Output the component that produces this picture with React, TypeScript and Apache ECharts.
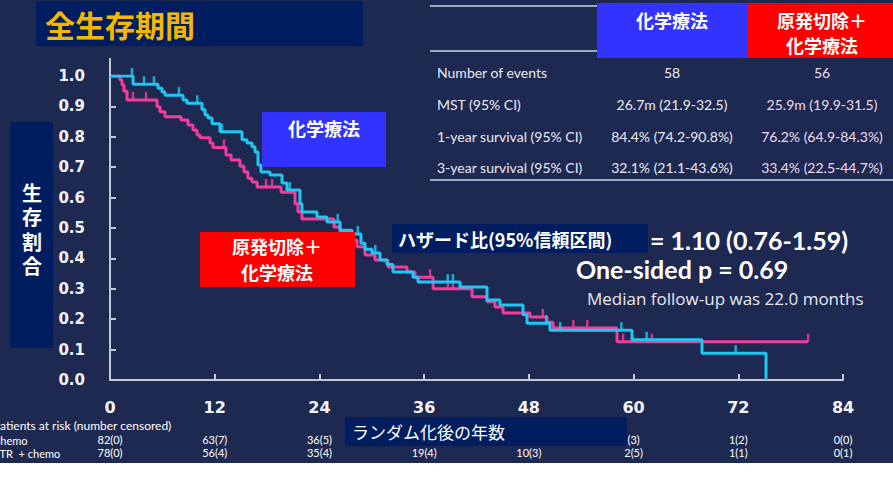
import React, { useEffect, useRef } from 'react';
import * as echarts from 'echarts';

const xTicks = [0, 12, 24, 36, 48, 60, 72, 84];
const chemoAtRisk = ['82(0)', '63(7)', '36(5)', '', '', '(3)', '1(2)', '0(0)'];
const ptrAtRisk = ['78(0)', '56(4)', '35(4)', '19(4)', '10(3)', '2(5)', '1(1)', '0(1)'];

// Kaplan-Meier steps: [month, survival after that month]
const chemoSteps: [number, number][] = [
  [0, 1.0], [2.64, 0.973], [5.5, 0.96], [5.96, 0.947], [6.3, 0.937], [8.37, 0.921], [8.82, 0.91],
  [10.54, 0.89], [10.89, 0.872], [11.23, 0.862], [11.69, 0.843], [12.61, 0.817], [15.13, 0.79],
  [15.7, 0.78], [16.27, 0.767], [16.62, 0.75], [16.96, 0.707], [17.3, 0.684], [18.34, 0.674],
  [19.71, 0.648], [20.28, 0.625], [21.77, 0.58], [22.0, 0.553], [23.72, 0.536], [24.87, 0.52],
  [26.36, 0.493], [27.73, 0.48], [28.76, 0.45], [29.22, 0.43], [30.03, 0.418], [30.94, 0.395],
  [31.74, 0.38], [32.43, 0.355], [34.72, 0.338], [35.3, 0.322], [40.11, 0.306], [43.2, 0.263],
  [44.69, 0.247], [47.33, 0.215], [47.79, 0.187], [50.42, 0.164], [59.82, 0.132], [67.84, 0.088],
  [75.18, 0.0],
];
const ptrSteps: [number, number][] = [
  [0, 1.0], [1.15, 0.987], [1.38, 0.97], [1.6, 0.95], [1.95, 0.921], [5.39, 0.899], [5.73, 0.882],
  [6.3, 0.866], [8.14, 0.855], [8.94, 0.839], [9.51, 0.822], [9.97, 0.806], [10.31, 0.797],
  [11.46, 0.78], [11.8, 0.765], [13.29, 0.74], [13.87, 0.724], [14.9, 0.703], [15.36, 0.684],
  [15.81, 0.664], [16.27, 0.651], [16.85, 0.635], [19.6, 0.618], [21.2, 0.58], [21.54, 0.553],
  [22.0, 0.53], [25.67, 0.503], [26.36, 0.487], [27.73, 0.46], [28.31, 0.438], [29.22, 0.411],
  [30.37, 0.395], [31.86, 0.372], [34.04, 0.355], [34.95, 0.338], [37.02, 0.3], [41.49, 0.274],
  [43.2, 0.257], [44.12, 0.24], [45.04, 0.22], [48.13, 0.207], [50.08, 0.19], [50.77, 0.171],
  [58.1, 0.126], [80.0, 0.126],
];
const chemoCensored: [number, number][] = [
  [2.52, 1.0], [3.9, 0.973], [5.04, 0.973], [7.9, 0.937], [10.0, 0.91], [12.84, 0.817],
  [20.6, 0.625], [26.1, 0.52], [28.4, 0.48], [30.4, 0.418], [38.7, 0.322], [39.3, 0.322],
  [50.0, 0.187], [51.6, 0.164], [58.6, 0.164], [61.5, 0.132], [71.7, 0.088],
];
const ptrCensored: [number, number][] = [
  [2.64, 0.921], [4.13, 0.921], [13.06, 0.765], [17.88, 0.635], [18.57, 0.635], [36.67, 0.338],
  [38.73, 0.3], [39.3, 0.3], [49.6, 0.207], [53.1, 0.171], [54.7, 0.171], [58.8, 0.126],
  [62.1, 0.126], [80.0, 0.126],
];

const tableRowLabels = ['Number of events', 'MST (95% CI)', '1-year survival (95% CI)', '3-year survival (95% CI)'];
const chemoStats = ['58', '26.7m (21.9-32.5)', '84.4% (74.2-90.8%)', '32.1% (21.1-43.6%)'];
const ptrStats = ['56', '25.9m (19.9-31.5)', '76.2% (64.9-84.3%)', '33.4% (22.5-44.7%)'];
const yTitleChars = ['生', '存', '割', '合'];

const BG = '#1e2951';
const BOX = '#001e5f';
const CYAN = '#1ec8f2';
const PINK = '#f43c9c';
const AXIS = '#c4c8d4';
const CJK = '"Noto Sans CJK JP"';

export default function App() {
  const ref = useRef<HTMLDivElement>(null);
  useEffect(() => {
    const chart = echarts.init(ref.current!, null, { renderer: 'svg' });
    const rowYs = [72, 104, 136, 167];
    const graphic: any[] = [];
    const txt = (text: string, x: number, y: number, font: string, fill = '#ffffff', align = 'left') => ({
      type: 'text', x, y, z: 110,
      style: { text, font, fill, textAlign: align, textVerticalAlign: 'middle' },
    });
    const rect = (x: number, y: number, w: number, h: number, fill: string) => ({
      type: 'rect', z: 100, shape: { x, y, width: w, height: h }, style: { fill },
    });
    const line = (x1: number, y1: number, x2: number, y2: number, stroke: string) => ({
      type: 'line', z: 100, shape: { x1, y1, x2, y2 }, style: { stroke, lineWidth: 2 },
    });
    // title
    graphic.push(rect(36, 1, 327, 45, BOX));
    graphic.push(txt('全生存期間', 45, 24, `bold 30px ${CJK}`, '#f5b800'));
    // table
    graphic.push(line(430, 6, 597, 6, '#a0a8be'));
    graphic.push(line(430, 51, 597, 51, '#a0a8be'));
    graphic.push(line(430, 180, 893, 180, '#a0a8be'));
    graphic.push(rect(597, 3, 151, 55, '#3333ff'));
    graphic.push(rect(748, 3, 145, 55, '#ff0000'));
    graphic.push(txt('化学療法', 672, 20, `bold 18px ${CJK}`, '#ffffff', 'center'));
    graphic.push(txt('原発切除＋', 822, 20, `bold 18px ${CJK}`, '#ffffff', 'center'));
    graphic.push(txt('化学療法', 822, 45, `bold 18px ${CJK}`, '#ffffff', 'center'));
    tableRowLabels.forEach((t, i) => {
      graphic.push(txt(t, 437, rowYs[i], '14px Lato', '#e8eaf2'));
      graphic.push(txt(chemoStats[i], 672, rowYs[i], '14px Lato', '#e8eaf2', 'center'));
      graphic.push(txt(ptrStats[i], 822, rowYs[i], '14px Lato', '#eedcee', 'center'));
    });
    // y title
    graphic.push(rect(10, 122, 43, 226, BOX));
    yTitleChars.forEach((c, i) => graphic.push(txt(c, 32, 192 + i * 24.5, `bold 20px ${CJK}`, '#ffffff', 'center')));
    // y axis extension
    graphic.push({ type: 'line', z: 5, shape: { x1: 110, y1: 58, x2: 110, y2: 76 }, style: { stroke: AXIS, lineWidth: 2 } });
    // annotations
    graphic.push(rect(262, 112, 124, 55, '#3333ff'));
    graphic.push(txt('化学療法', 324, 128, `bold 18px ${CJK}`, '#ffffff', 'center'));
    graphic.push(rect(200, 232, 155, 55, '#ff0000'));
    graphic.push(txt('原発切除＋', 277, 246, `bold 18px ${CJK}`, '#ffffff', 'center'));
    graphic.push(txt('化学療法', 277, 272, `bold 18px ${CJK}`, '#ffffff', 'center'));
    graphic.push(rect(392, 224, 256, 29, BOX));
    graphic.push(txt('ハザード比(95%信頼区間)', 398, 239, `bold 18px ${CJK}`));
    graphic.push(txt('= 1.10 (0.76-1.59)', 650, 240, 'bold 25px Lato'));
    graphic.push(txt('One-sided p = 0.69', 576, 269, 'bold 25px Lato'));
    graphic.push(txt('Median follow-up was 22.0 months', 587, 298, '17px "Open Sans"', '#e8e8f0'));
    // risk table
    graphic.push(txt('Patients at risk (number censored)', -7, 425, '12px Lato'));
    graphic.push(txt('Chemo', -7, 440, '11px Lato'));
    graphic.push(txt('PTR  + chemo', -7, 453, '11px Lato'));
    graphic.push(rect(345, 417, 282, 29, BOX));
    graphic.push(txt('ランダム化後の年数', 352, 431.5, `17px ${CJK}`));

    const riskAxis = (labels: string[], offset: number) => ({
      type: 'value', gridIndex: 0, position: 'bottom', offset, min: 0, max: 84, interval: 12,
      axisLine: { show: false }, axisTick: { show: false }, splitLine: { show: false },
      axisLabel: {
        margin: 0, color: '#ffffff', fontSize: 11, fontFamily: 'Lato',
        formatter: (v: number) => labels[xTicks.indexOf(v)] ?? '',
      },
    });

    chart.setOption({
      animation: false,
      backgroundColor: 'transparent',
      grid: { left: 110, top: 76, width: 733, height: 304, containLabel: false, outerBoundsMode: 'none' },
      xAxis: [
        {
          type: 'value', min: 0, max: 84, interval: 12,
          axisLine: { show: true, lineStyle: { color: AXIS, width: 2 } },
          axisTick: { show: true, inside: true, length: 6, lineStyle: { color: AXIS, width: 2 } },
          splitLine: { show: false },
          axisLabel: { margin: 19, color: '#f4f4f8', fontSize: 16, fontWeight: 'bold', fontFamily: 'DejaVu Sans' },
        },
        riskAxis(chemoAtRisk, 54),
        riskAxis(ptrAtRisk, 67),
      ],
      yAxis: {
        type: 'value', min: 0, max: 1, interval: 0.1,
        axisLine: { show: true, lineStyle: { color: AXIS, width: 2 } },
        axisTick: { show: true, inside: true, length: 6, lineStyle: { color: AXIS, width: 2 } },
        splitLine: { show: false },
        axisLabel: {
          margin: 25, color: '#f4f4f8', fontSize: 15, fontWeight: 'bold', fontFamily: 'DejaVu Sans',
          formatter: (v: number) => v.toFixed(1),
        },
      },
      series: [
        { type: 'line', step: 'end', data: ptrSteps, showSymbol: false, symbol: 'none', lineStyle: { color: PINK, width: 3 }, z: 2 },
        { type: 'line', step: 'end', data: chemoSteps, showSymbol: false, symbol: 'none', lineStyle: { color: CYAN, width: 3 }, z: 3 },
        { type: 'scatter', data: ptrCensored, symbol: 'rect', symbolSize: [2.5, 8], symbolOffset: [0, -4], itemStyle: { color: PINK }, z: 2 },
        { type: 'scatter', data: chemoCensored, symbol: 'rect', symbolSize: [2.5, 8], symbolOffset: [0, -4], itemStyle: { color: CYAN }, z: 3 },
      ],
      graphic,
    });
    return () => chart.dispose();
  }, []);
  return (
    <div
      ref={ref}
      style={{
        position: 'absolute', left: 0, top: 0, width: 893, height: 497,
        background: `linear-gradient(to bottom, ${BG} 0px, ${BG} 463px, #ffffff 463px)`,
      }}
    />
  );
}
